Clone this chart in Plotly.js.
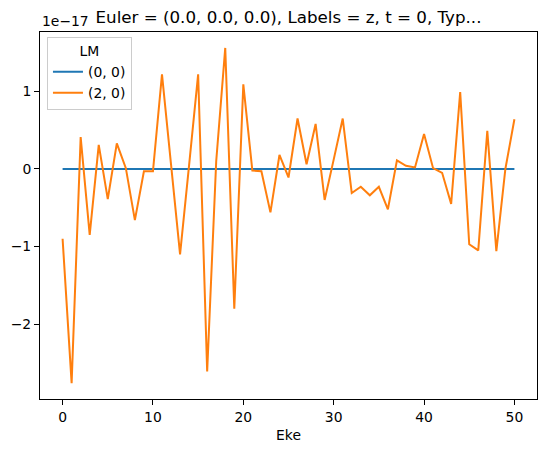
<!DOCTYPE html>
<html>
<head>
<meta charset="utf-8">
<script src="https://cdn.plot.ly/plotly-3.0.1.min.js"></script>
<style>html,body{margin:0;padding:0;background:#fff;}</style>
</head>
<body>
<div id="chart" style="width:546px;height:453px;"></div>
<script>
// x values (Eke)
const eke = [];
for (let i = 0; i <= 50; i++) eke.push(i);
// Values in units of 1e-17
const lm00 = [0,0,0,0,0,0,0,0,0,0,0,0,0,0,0,0,0,0,0,0,0,0,0,0,0,0,0,0,0,0,0,0,0,0,0,0,0,0,0,0,0,0,0,0,0,0,0,0,0,0,0];
const lm20 = [-0.90,-2.76,0.41,-0.85,0.31,-0.39,0.33,0.01,-0.66,-0.03,-0.03,1.22,0.06,-1.10,0.05,1.22,-2.61,0.10,1.56,-1.80,1.09,-0.02,-0.03,-0.56,0.18,-0.11,0.65,0.06,0.58,-0.40,0.12,0.65,-0.31,-0.23,-0.34,-0.23,-0.52,0.11,0.04,0.02,0.45,0.01,-0.05,-0.45,0.99,-0.97,-1.05,0.49,-1.06,0.00,0.64];
const seriesNames = ["(0, 0)", "(2, 0)"];
const xTicks = [0, 10, 20, 30, 40, 50];
const yTicks = [-2, -1, 0, 1];

const font = "DejaVu Sans, sans-serif";
const fs = 13.9;
const traces = [
  {x: eke, y: lm00, name: seriesNames[0], type: "scatter", mode: "lines", line: {color: "#1f77b4", width: 2}},
  {x: eke, y: lm20, name: seriesNames[1], type: "scatter", mode: "lines", line: {color: "#ff7f0e", width: 2}}
];
const layout = {
  width: 546, height: 453,
  margin: {l: 40, r: 9, t: 32, b: 54},
  paper_bgcolor: "#fff", plot_bgcolor: "#fff",
  font: {family: font, size: fs, color: "#000"},
  title: {text: "Euler = (0.0, 0.0, 0.0), Labels = z, t = 0, Typ...", font: {family: font, size: 16.7, color: "#000"},
          x: 0.5, xref: "paper", xanchor: "center", y: 1 - 17/453, yref: "container", yanchor: "middle"},
  xaxis: {range: [-2.5, 52.5], tickvals: xTicks, ticks: "outside", ticklen: 5, tickcolor: "#000",
          tickfont: {family: font, size: fs},
          showline: true, linecolor: "#000", linewidth: 1, mirror: true, showgrid: false, zeroline: false,
          title: {text: "Eke", font: {family: font, size: fs}, standoff: 6}},
  yaxis: {range: [-2.965, 1.765], tickvals: yTicks, ticks: "outside", ticklen: 5, tickcolor: "#000",
          tickfont: {family: font, size: fs},
          showline: true, linecolor: "#000", linewidth: 1, mirror: true, showgrid: false, zeroline: false},
  showlegend: true,
  legend: {x: 0.014, y: 0.986, xanchor: "left", yanchor: "top", bgcolor: "rgba(255,255,255,0.8)",
           bordercolor: "#cccccc", borderwidth: 1, font: {family: font, size: fs}, tracegroupgap: 0,
           title: {text: "LM", side: "top center", font: {family: font, size: fs}}},
  annotations: [{text: "1e\u221217", xref: "paper", yref: "paper", x: 0, y: 1, xanchor: "left", yanchor: "bottom",
                 yshift: 1, showarrow: false, font: {family: font, size: fs, color: "#000"}}]
};
Plotly.newPlot("chart", traces, layout, {displayModeBar: false, staticPlot: true});
</script>
</body>
</html>
